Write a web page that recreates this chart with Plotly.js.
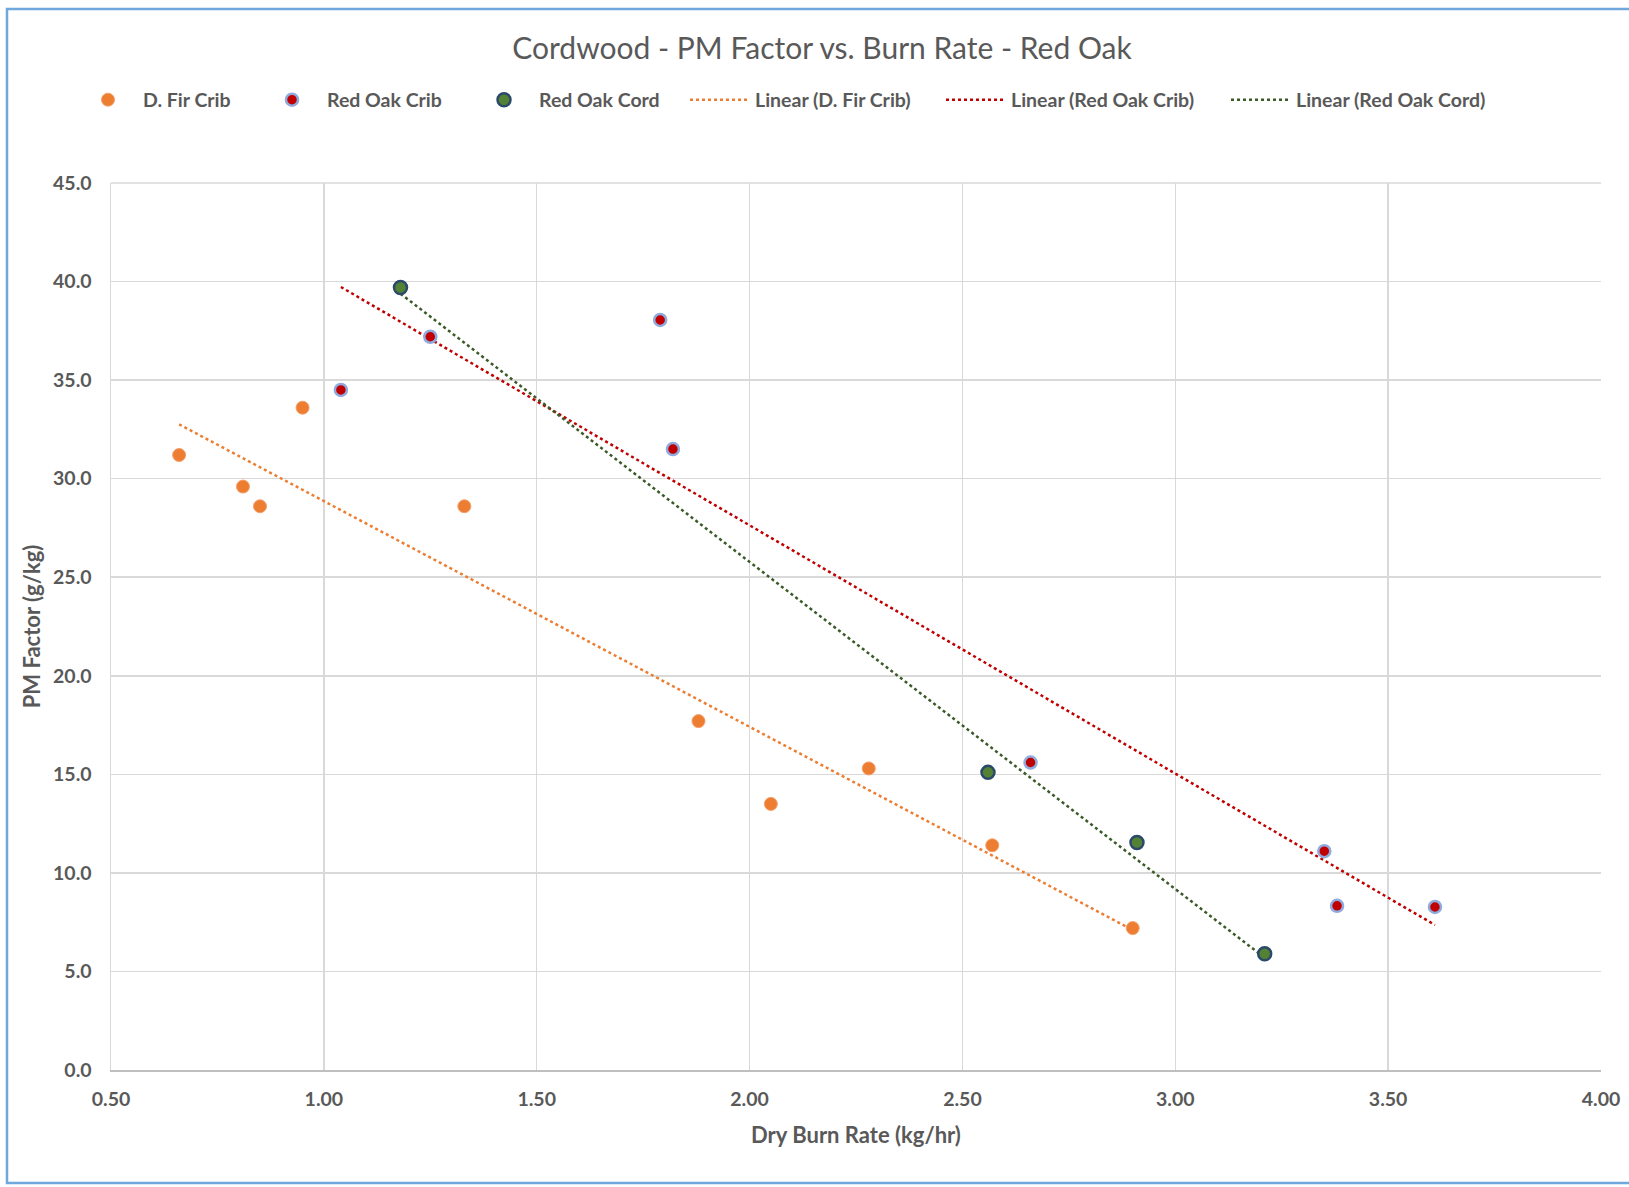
<!DOCTYPE html>
<html>
<head>
<meta charset="utf-8">
<script src="https://cdn.plot.ly/plotly-3.0.1.min.js"></script>
<style>
  html, body { margin: 0; padding: 0; background: #ffffff; }
  #chart { width: 1629px; height: 1187px; }
</style>
</head>
<body>
<div id="chart"></div>
<script>
// ---- Data ----
const firX = [0.66, 0.81, 0.85, 0.95, 1.33, 1.88, 2.05, 2.28, 2.57, 2.90];
const firY = [31.2, 29.6, 28.6, 33.6, 28.6, 17.7, 13.5, 15.3, 11.4, 7.2];

const oakCribX = [1.04, 1.25, 1.79, 1.82, 2.66, 3.35, 3.38, 3.61];
const oakCribY = [34.5, 37.2, 38.05, 31.5, 15.6, 11.1, 8.33, 8.27];

const oakCordX = [1.18, 2.56, 2.91, 3.21];
const oakCordY = [39.7, 15.1, 11.54, 5.9];

const seriesNames = ['D. Fir Crib', 'Red Oak Crib', 'Red Oak Cord'];
const trendNames = ['Linear (D. Fir Crib)', 'Linear (Red Oak Crib)', 'Linear (Red Oak Cord)'];

const xTicks = [0.5, 1.0, 1.5, 2.0, 2.5, 3.0, 3.5, 4.0];
const yTicks = [0, 5, 10, 15, 20, 25, 30, 35, 40, 45];

// least-squares trendline over the range of the data
function linearTrend(xs, ys) {
  const n = xs.length;
  const mx = xs.reduce((a, b) => a + b, 0) / n;
  const my = ys.reduce((a, b) => a + b, 0) / n;
  let sxy = 0, sxx = 0;
  for (let i = 0; i < n; i++) {
    sxy += (xs[i] - mx) * (ys[i] - my);
    sxx += (xs[i] - mx) * (xs[i] - mx);
  }
  const m = sxy / sxx, b = my - m * mx;
  const x0 = Math.min(...xs), x1 = Math.max(...xs);
  return { x: [x0, x1], y: [m * x0 + b, m * x1 + b] };
}

const fTrend = linearTrend(firX, firY);
const cTrend = linearTrend(oakCribX, oakCribY);
const dTrend = linearTrend(oakCordX, oakCordY);

const orange = '#ED7D31';
const red = '#C00000';
const green = '#548235';
const trendGreen = '#3A5A28';

const traces = [
  { type: 'scatter', mode: 'lines', x: fTrend.x, y: fTrend.y, name: trendNames[0],
    line: { color: orange, width: 2.5, dash: 'dot' }, legend: 'legend4' },
  { type: 'scatter', mode: 'lines', x: cTrend.x, y: cTrend.y, name: trendNames[1],
    line: { color: red, width: 2.5, dash: 'dot' }, legend: 'legend5' },
  { type: 'scatter', mode: 'lines', x: dTrend.x, y: dTrend.y, name: trendNames[2],
    line: { color: trendGreen, width: 2.5, dash: 'dot' }, legend: 'legend6' },
  { type: 'scatter', mode: 'markers', x: firX, y: firY, name: seriesNames[0],
    marker: { color: orange, size: 13, line: { color: '#F4A06A', width: 1 } }, legend: 'legend' },
  { type: 'scatter', mode: 'markers', x: oakCribX, y: oakCribY, name: seriesNames[1],
    marker: { color: red, size: 12, line: { color: '#8FAADC', width: 2.5 } }, legend: 'legend2' },
  { type: 'scatter', mode: 'markers', x: oakCordX, y: oakCordY, name: seriesNames[2],
    marker: { color: green, size: 13, line: { color: '#2B4A6A', width: 2.5 } }, legend: 'legend3' }
];

// plot area: x 111..1601, y 183..1070 (px)
const L = 111, R = 1601, T = 183, B = 1070;
const px2x = p => (p - L) / (R - L);
const py2y = p => (B - p) / (B - T);

const FONT = 'Lato, "Open Sans", sans-serif';
const textColor = '#595959';
const legFont = { family: FONT, size: 19.5, color: textColor, weight: 'bold' };
function leg(centerPx) {
  return {
    x: px2x(centerPx - 35), xanchor: 'left', y: py2y(100), yanchor: 'middle',
    orientation: 'h', bgcolor: 'rgba(0,0,0,0)', borderwidth: 0,
    itemwidth: 60, font: legFont
  };
}

const tickFont = { family: FONT, size: 19.5, color: textColor, weight: 'bold' };
const axTitleFont = { family: FONT, size: 22, color: textColor, weight: 'bold' };

const layout = {
  width: 1629, height: 1187,
  paper_bgcolor: '#ffffff', plot_bgcolor: '#ffffff',
  margin: { l: L, r: 1629 - R, t: T, b: 1187 - B, pad: 0 },
  title: {
    text: 'Cordwood - PM Factor vs. Burn Rate - Red Oak',
    font: { family: FONT, size: 30, color: textColor },
    x: 822 / 1629, xanchor: 'center', xref: 'container',
    y: 1 - 48 / 1187, yanchor: 'middle', yref: 'container'
  },
  showlegend: true,
  legend: leg(108),
  legend2: leg(292),
  legend3: leg(504),
  legend4: leg(720),
  legend5: leg(976),
  legend6: leg(1261),
  xaxis: {
    range: [0.5, 4.0], tickvals: xTicks, tickformat: '.2f',
    showgrid: true, gridcolor: '#D9D9D9', gridwidth: 1.5,
    zeroline: false, showline: true, linecolor: '#BFBFBF', linewidth: 1.5, mirror: false,
    ticks: '', ticklabelstandoff: 11, tickfont: tickFont,
    title: { text: 'Dry Burn Rate (kg/hr)', font: axTitleFont, standoff: 18 },
    automargin: false, fixedrange: true
  },
  yaxis: {
    range: [0, 45], tickvals: yTicks, tickformat: '.1f',
    showgrid: true, gridcolor: '#D9D9D9', gridwidth: 1.5,
    zeroline: false, showline: true, linecolor: '#D9D9D9', linewidth: 1.5, mirror: false,
    ticks: '', ticklabelstandoff: 14, tickfont: tickFont,
    title: { text: 'PM Factor (g/kg)', font: axTitleFont, standoff: 6 },
    automargin: false, fixedrange: true
  },
  shapes: [
    { type: 'line', xref: 'paper', yref: 'paper', x0: 0, x1: 1, y0: 1, y1: 1,
      line: { color: '#D9D9D9', width: 1.5 }, layer: 'below' },
    { type: 'rect', xref: 'paper', yref: 'paper',
      x0: px2x(7), x1: px2x(1700), y0: py2y(1183), y1: py2y(9),
      line: { color: '#6FA8DC', width: 2.5 }, fillcolor: 'rgba(0,0,0,0)', layer: 'above' }
  ]
};

Plotly.newPlot('chart', traces, layout, { displayModeBar: false, staticPlot: true });
</script>
</body>
</html>
